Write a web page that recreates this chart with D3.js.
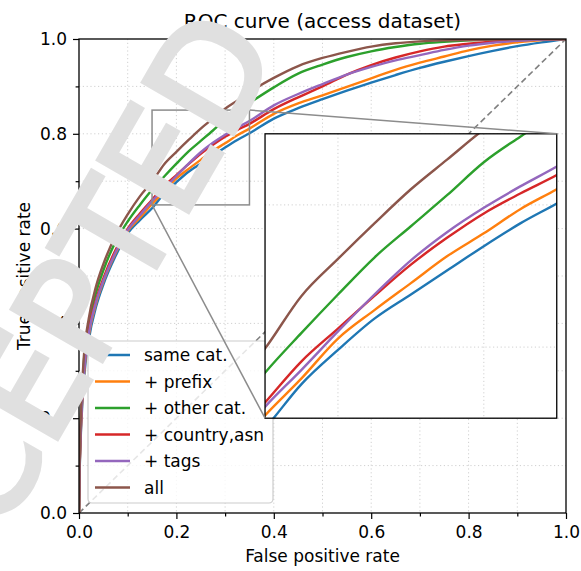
<!DOCTYPE html>
<html><head><meta charset="utf-8">
<script src="https://cdn.jsdelivr.net/npm/d3@7"></script>
<style>body{margin:0;background:#fff}svg{display:block}</style>
</head><body>
<script>
// ---------- data ----------
const fpr = [0, 0.001, 0.003, 0.006, 0.01, 0.02, 0.035, 0.05, 0.075, 0.1, 0.125, 0.15, 0.175, 0.2, 0.225, 0.25, 0.275, 0.3, 0.325, 0.35, 0.4, 0.45, 0.5, 0.55, 0.6, 0.65, 0.7, 0.75, 0.8, 0.85, 0.9, 0.95, 1.0];
const tprSameCat  = [0, 0.07, 0.145, 0.215, 0.28, 0.365, 0.435, 0.482, 0.542, 0.59, 0.618, 0.643, 0.674, 0.698, 0.720, 0.737, 0.754, 0.771, 0.787, 0.801, 0.832, 0.854, 0.873, 0.891, 0.908, 0.924, 0.939, 0.952, 0.964, 0.975, 0.985, 0.993, 1];
const tprPrefix   = [0, 0.075, 0.15, 0.225, 0.29, 0.375, 0.442, 0.488, 0.548, 0.595, 0.623, 0.652, 0.678, 0.706, 0.726, 0.745, 0.764, 0.780, 0.797, 0.811, 0.842, 0.864, 0.881, 0.899, 0.917, 0.935, 0.950, 0.963, 0.976, 0.986, 0.993, 0.998, 1];
const tprOtherCat = [0, 0.085, 0.17, 0.25, 0.32, 0.40, 0.465, 0.512, 0.572, 0.615, 0.65, 0.682, 0.710, 0.737, 0.763, 0.785, 0.807, 0.830, 0.848, 0.865, 0.898, 0.927, 0.946, 0.962, 0.974, 0.983, 0.990, 0.994, 0.997, 0.999, 0.9995, 1, 1];
const tprCountry  = [0, 0.08, 0.16, 0.235, 0.30, 0.385, 0.45, 0.495, 0.555, 0.60, 0.632, 0.661, 0.690, 0.713, 0.736, 0.758, 0.777, 0.794, 0.808, 0.821, 0.852, 0.877, 0.900, 0.925, 0.945, 0.961, 0.974, 0.984, 0.990, 0.995, 0.998, 0.9995, 1];
const tprTags     = [0, 0.078, 0.155, 0.23, 0.295, 0.378, 0.445, 0.49, 0.55, 0.597, 0.628, 0.658, 0.684, 0.711, 0.737, 0.761, 0.781, 0.798, 0.813, 0.827, 0.860, 0.884, 0.905, 0.925, 0.941, 0.955, 0.966, 0.977, 0.986, 0.992, 0.996, 0.999, 1];
const tprAll      = [0, 0.09, 0.18, 0.26, 0.33, 0.41, 0.478, 0.525, 0.585, 0.63, 0.668, 0.699, 0.736, 0.762, 0.787, 0.811, 0.832, 0.853, 0.870, 0.888, 0.918, 0.943, 0.960, 0.973, 0.984, 0.991, 0.995, 0.997, 0.998, 0.999, 0.9995, 1, 1];
const seriesNames = ["same cat.", "+ prefix", "+ other cat.", "+ country,asn", "+ tags", "all"];
const seriesTpr = [tprSameCat, tprPrefix, tprOtherCat, tprCountry, tprTags, tprAll];
const seriesColors = ["#1f77b4", "#ff7f0e", "#2ca02c", "#d62728", "#9467bd", "#8c564b"];
const majorTicks = [0, 0.2, 0.4, 0.6, 0.8, 1.0];
const minorTicks = [0.1, 0.3, 0.5, 0.7, 0.9];
const gridTicks = [0.1, 0.2, 0.3, 0.4, 0.5, 0.6, 0.7, 0.8, 0.9];
const diagonal = [[0, 0], [1, 1]];
const zoomX = [0.15, 0.35];
const zoomY = [0.65, 0.85];
const insetGridX = [0.2, 0.3];
const insetGridY = [0.7, 0.8];
const insetPos = {x0: 0.382, x1: 0.981, y0: 0.2, y1: 0.8}; // in main data coords
const titleText = "ROC curve (access dataset)";
const xLabel = "False positive rate";
const yLabel = "True positive rate";
const watermark = "ACCEPTED";

// ---------- layout ----------
const W = 581, H = 571;
const L = 79, R = 566, T = 39, B = 513;
const FONT = "DejaVu Sans, sans-serif";
const x = d3.scaleLinear().domain([0, 1]).range([L, R]);
const y = d3.scaleLinear().domain([0, 1]).range([B, T]);

const svg = d3.select("body").append("svg").attr("width", W).attr("height", H);
const defs = svg.append("defs");
defs.append("clipPath").attr("id", "clipMain").append("rect")
  .attr("x", L).attr("y", T).attr("width", R - L).attr("height", B - T);

const ix0 = x(insetPos.x0), ix1 = x(insetPos.x1), iy0 = y(insetPos.y1), iy1 = y(insetPos.y0);
const xi = d3.scaleLinear().domain(zoomX).range([ix0, ix1]);
const yi = d3.scaleLinear().domain(zoomY).range([iy1, iy0]);
defs.append("clipPath").attr("id", "clipInset").append("rect")
  .attr("x", ix0).attr("y", iy0).attr("width", ix1 - ix0).attr("height", iy1 - iy0);

const gridStyle = g => g.attr("stroke", "#d0d0d0").attr("stroke-width", 1).attr("stroke-dasharray", "1.2,2.6").attr("fill", "none");

// grid
const grid = svg.append("g").call(gridStyle);
gridTicks.forEach(v => {
  grid.append("line").attr("x1", x(v)).attr("x2", x(v)).attr("y1", T).attr("y2", B);
  grid.append("line").attr("y1", y(v)).attr("y2", y(v)).attr("x1", L).attr("x2", R);
});

// diagonal
const main = svg.append("g").attr("clip-path", "url(#clipMain)");
main.append("path").datum(diagonal)
  .attr("d", d3.line().x(d => x(d[0])).y(d => y(d[1])))
  .attr("stroke", "#808080").attr("stroke-width", 1.6).attr("stroke-dasharray", "6,3.5").attr("fill", "none");

const lineMain = d3.line().x(d => x(d[0])).y(d => y(d[1])).curve(d3.curveMonotoneX);
seriesTpr.forEach((s, i) => {
  main.append("path").datum(fpr.map((f, j) => [f, s[j]]))
    .attr("d", lineMain).attr("stroke", seriesColors[i]).attr("stroke-width", 2.4)
    .attr("fill", "none").attr("stroke-linejoin", "round");
});

// indicator rectangle
svg.append("rect").attr("x", x(zoomX[0])).attr("y", y(zoomY[1]))
  .attr("width", x(zoomX[1]) - x(zoomX[0])).attr("height", y(zoomY[0]) - y(zoomY[1]))
  .attr("fill", "none").attr("stroke", "#8c8c8c").attr("stroke-width", 1.5);

// spines
svg.append("rect").attr("x", L).attr("y", T).attr("width", R - L).attr("height", B - T)
  .attr("fill", "none").attr("stroke", "#000").attr("stroke-width", 1.3);

// axes
const styleAxis = g => {
  g.select(".domain").remove();
  g.selectAll(".tick line").attr("stroke", "#000").attr("stroke-width", 1.2);
  g.selectAll(".tick text").attr("font-family", FONT).attr("font-size", 17).attr("fill", "#000");
};
svg.append("g").attr("transform", `translate(0,${B})`)
  .call(d3.axisBottom(x).tickValues(majorTicks).tickFormat(d3.format(".1f")).tickSize(6).tickPadding(7))
  .call(styleAxis);
svg.append("g").attr("transform", `translate(0,${B})`)
  .call(d3.axisBottom(x).tickValues(minorTicks).tickFormat("").tickSize(3.4))
  .call(styleAxis);
svg.append("g").attr("transform", `translate(${L},0)`)
  .call(d3.axisLeft(y).tickValues(majorTicks).tickFormat(d3.format(".1f")).tickSize(6).tickPadding(6))
  .call(styleAxis);
svg.append("g").attr("transform", `translate(${L},0)`)
  .call(d3.axisLeft(y).tickValues(minorTicks).tickFormat("").tickSize(3.4))
  .call(styleAxis);

// labels
svg.append("text").attr("x", (L + R) / 2).attr("y", 28).attr("text-anchor", "middle")
  .attr("font-family", FONT).attr("font-size", 20).text(titleText);
svg.append("text").attr("x", (L + R) / 2).attr("y", 562).attr("text-anchor", "middle")
  .attr("font-family", FONT).attr("font-size", 17).text(xLabel);
svg.append("text").attr("transform", `translate(30,${(T + B) / 2}) rotate(-90)`).attr("text-anchor", "middle")
  .attr("font-family", FONT).attr("font-size", 17).text(yLabel);

// legend
const lg = svg.append("g");
const lgX = 88, lgY = 341, lgW = 185, lgH = 162, rowH = 26.5;
lg.append("rect").attr("x", lgX).attr("y", lgY).attr("width", lgW).attr("height", lgH).attr("rx", 4)
  .attr("fill", "#fff").attr("fill-opacity", 0.8).attr("stroke", "#cccccc").attr("stroke-width", 1.2);
seriesNames.forEach((n, i) => {
  const cy = lgY + 14 + i * rowH;
  lg.append("line").attr("x1", lgX + 7).attr("x2", lgX + 42).attr("y1", cy).attr("y2", cy)
    .attr("stroke", seriesColors[i]).attr("stroke-width", 2.4);
  lg.append("text").attr("x", lgX + 56).attr("y", cy + 6).attr("font-family", FONT).attr("font-size", 17).text(n);
});

// inset
const ins = svg.append("g");
ins.append("rect").attr("x", ix0).attr("y", iy0).attr("width", ix1 - ix0).attr("height", iy1 - iy0).attr("fill", "#fff");
const ig = ins.append("g").call(gridStyle);
insetGridX.forEach(v => ig.append("line").attr("x1", xi(v)).attr("x2", xi(v)).attr("y1", iy0).attr("y2", iy1));
insetGridY.forEach(v => ig.append("line").attr("y1", yi(v)).attr("y2", yi(v)).attr("x1", ix0).attr("x2", ix1));
const insC = ins.append("g").attr("clip-path", "url(#clipInset)");
const lineInset = d3.line().x(d => xi(d[0])).y(d => yi(d[1])).curve(d3.curveMonotoneX);
seriesTpr.forEach((s, i) => {
  insC.append("path").datum(fpr.map((f, j) => [f, s[j]]))
    .attr("d", lineInset).attr("stroke", seriesColors[i]).attr("stroke-width", 2.4)
    .attr("fill", "none").attr("stroke-linejoin", "round");
});
ins.append("rect").attr("x", ix0).attr("y", iy0).attr("width", ix1 - ix0).attr("height", iy1 - iy0)
  .attr("fill", "none").attr("stroke", "#000").attr("stroke-width", 1.3);

// connectors
svg.append("line").attr("x1", x(zoomX[1])).attr("y1", y(zoomY[1])).attr("x2", ix1).attr("y2", iy0)
  .attr("stroke", "#8c8c8c").attr("stroke-width", 1.5);
svg.append("line").attr("x1", x(zoomX[0])).attr("y1", y(zoomY[0])).attr("x2", ix0).attr("y2", iy1)
  .attr("stroke", "#8c8c8c").attr("stroke-width", 1.5);

// watermark
svg.append("text").attr("transform", "translate(48,352) rotate(-60)")
  .attr("text-anchor", "middle").attr("dy", "0.36em")
  .attr("font-family", FONT).attr("font-size", 142)
  .attr("fill", "#e0e0e0").attr("stroke", "#e0e0e0").attr("stroke-width", 5).attr("stroke-linejoin", "miter")
  .text(watermark);
</script>
</body></html>
